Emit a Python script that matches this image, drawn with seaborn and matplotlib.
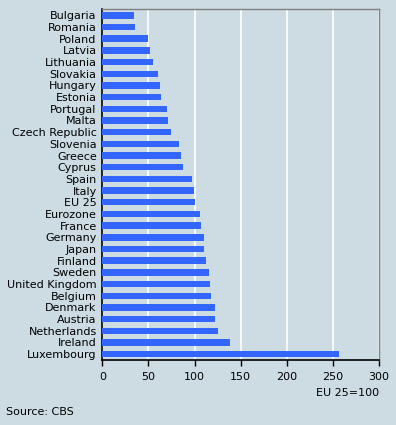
import pandas as pd
import seaborn as sns
import matplotlib.pyplot as plt

# Dados (EU 25 = 100)
paises = ['Bulgaria', 'Romania', 'Poland', 'Latvia', 'Lithuania', 'Slovakia',
          'Hungary', 'Estonia', 'Portugal', 'Malta', 'Czech Republic', 'Slovenia',
          'Greece', 'Cyprus', 'Spain', 'Italy', 'EU 25', 'Eurozone', 'France',
          'Germany', 'Japan', 'Finland', 'Sweden', 'United Kingdom', 'Belgium',
          'Denmark', 'Austria', 'Netherlands', 'Ireland', 'Luxembourg']
valores = [34, 35, 50, 52, 55, 60, 63, 64, 70, 71, 75, 83, 85, 88, 97, 99,
           100, 106, 107, 110, 110, 112, 116, 117, 118, 122, 122, 125, 139, 257]

dados = pd.DataFrame({'pais': paises, 'valor': valores})

fundo = '#cddce2'
tamanho = 8
sns.set_style('white')
plt.rcParams['font.family'] = ['DejaVu Sans']
plt.rcParams['text.color'] = 'black'

fig = plt.figure(figsize=(3.96, 4.25), dpi=100, facecolor=fundo)
ax = fig.add_axes([0.2583, 0.153, 0.6987, 0.8247])
ax.set_facecolor(fundo)

sns.barplot(data=dados, x='valor', y='pais', color='#3366ff', saturation=1,
            width=0.55, linewidth=0, edgecolor='none', ax=ax)
for barra in ax.patches:
    barra.set_zorder(3)

ax.set_xlim(0, 300)
ax.set_xticks([0, 50, 100, 150, 200, 250, 300])
ax.set_axisbelow(True)
ax.xaxis.grid(True, color='white', linewidth=1.2)
ax.set_xlabel('')
ax.set_ylabel('')
ax.tick_params(axis='x', length=4, width=1, color='black', labelcolor='black',
               labelsize=tamanho, pad=5, direction='out', bottom=True)
ax.tick_params(axis='y', length=0, labelsize=tamanho, labelcolor='black', pad=4)

for lado in ['top', 'right']:
    ax.spines[lado].set_color('#808080')
    ax.spines[lado].set_linewidth(1)
for lado in ['left', 'bottom']:
    ax.spines[lado].set_color('black')
    ax.spines[lado].set_linewidth(1.2)

fig.text(0.957, 1 - 393 / 425, 'EU 25=100', ha='right', va='center', fontsize=tamanho)
fig.text(6 / 396, 1 - 412 / 425, 'Source: CBS', ha='left', va='center', fontsize=tamanho)

plt.savefig('out.png', dpi=100, facecolor=fundo)
